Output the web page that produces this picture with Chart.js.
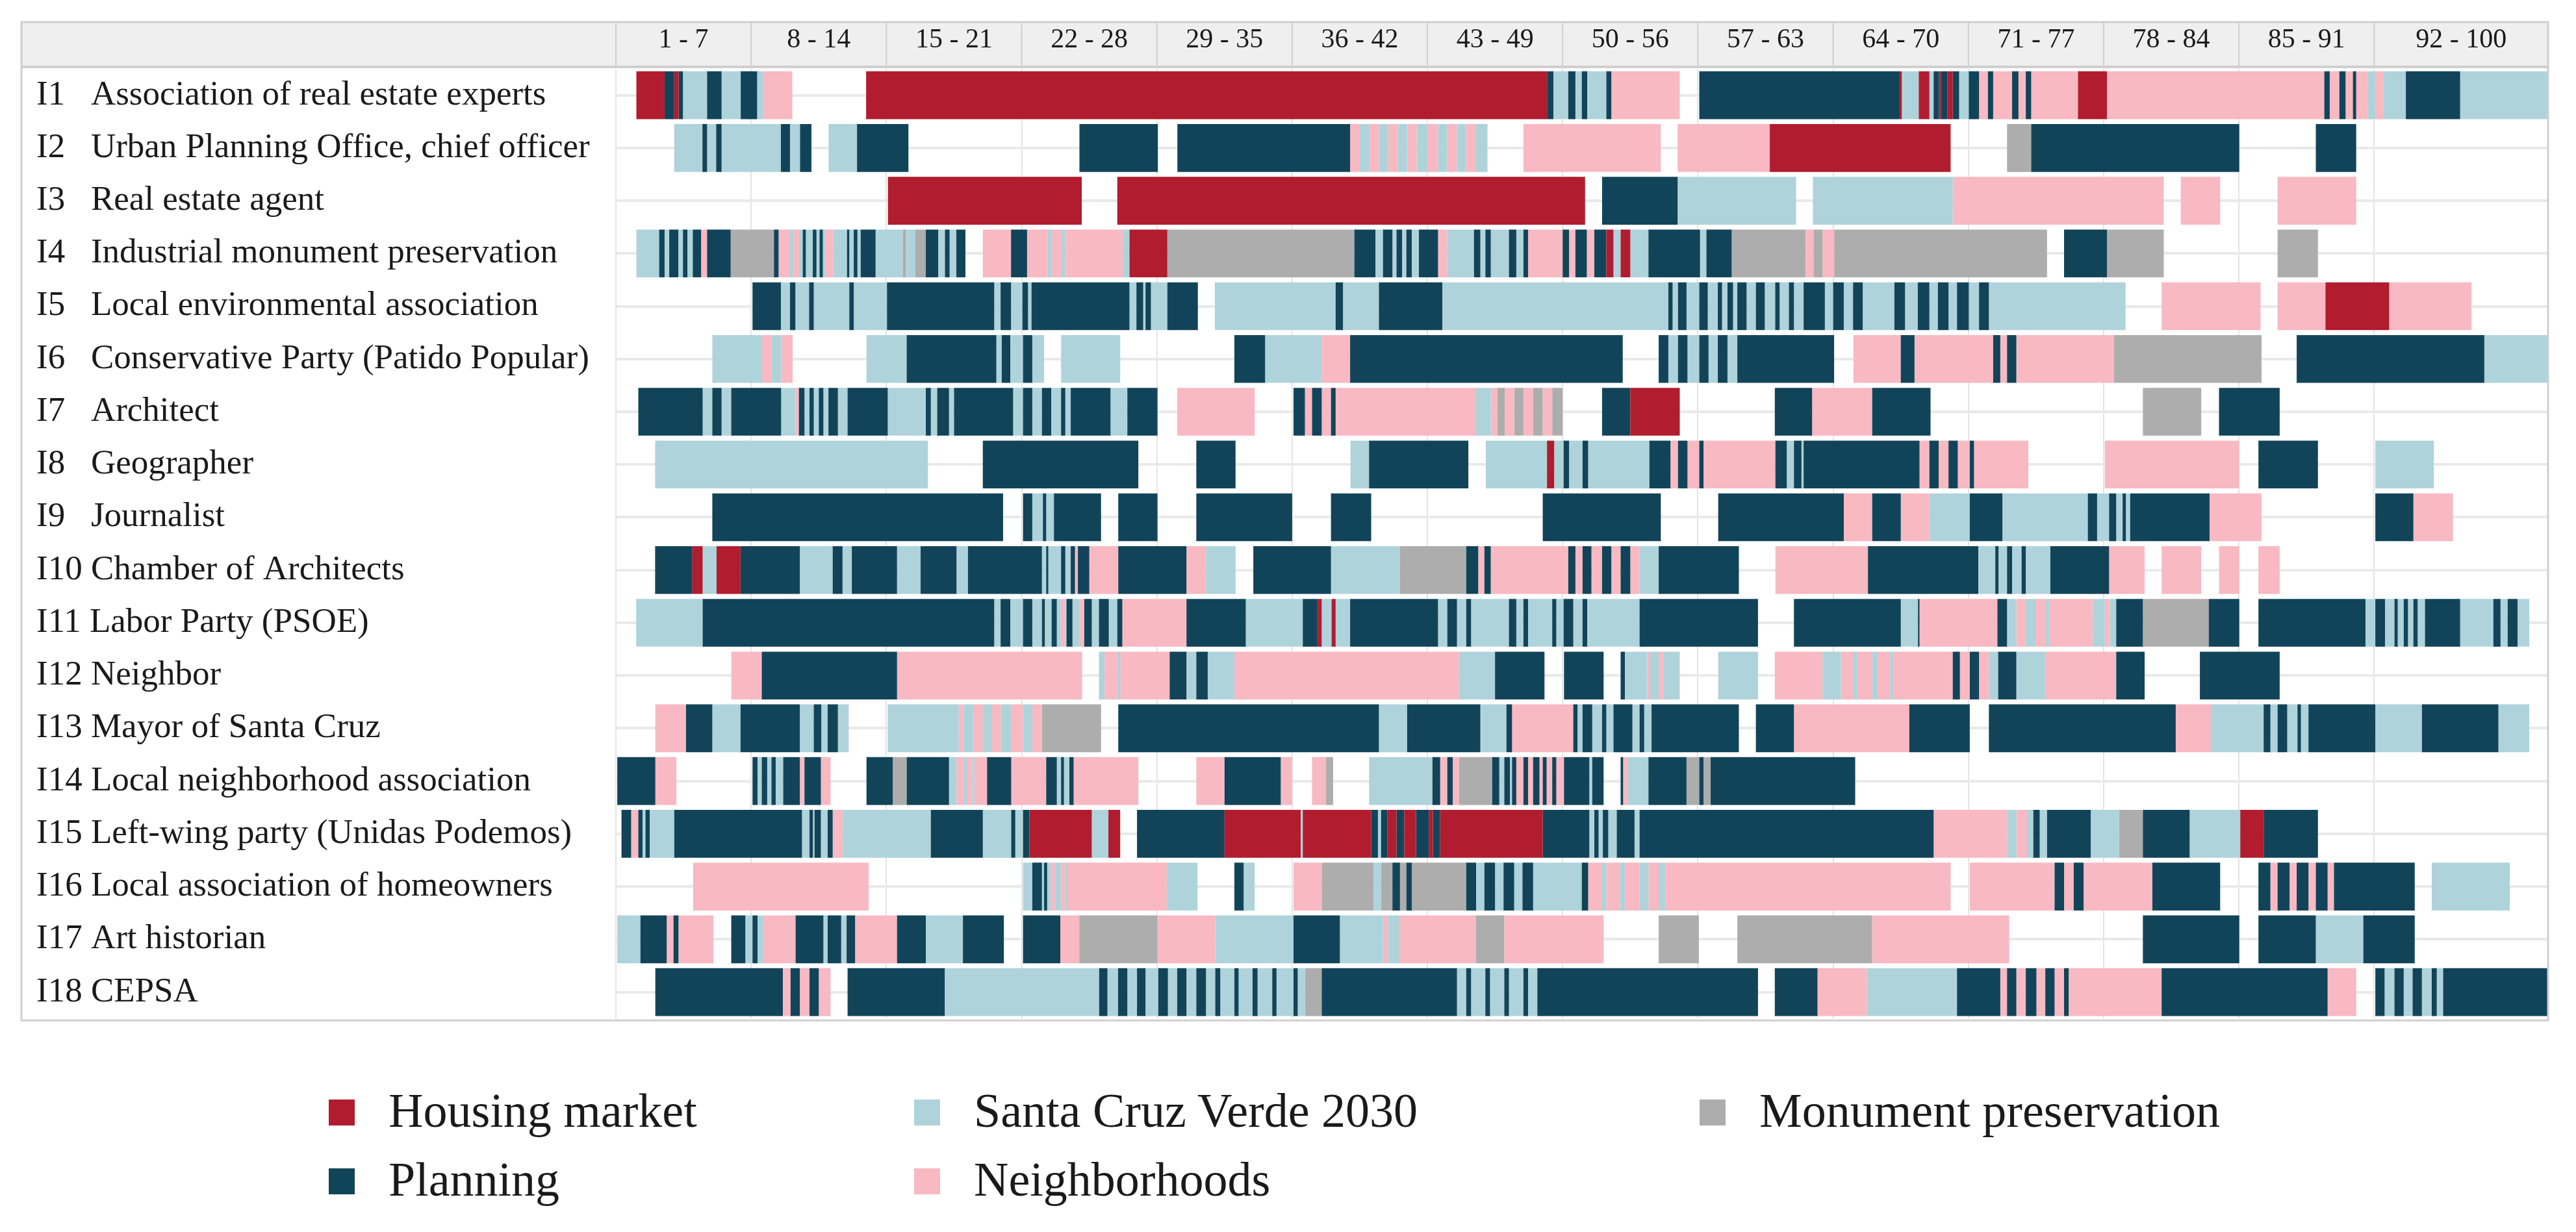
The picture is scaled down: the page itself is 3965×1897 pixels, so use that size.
<!DOCTYPE html>
<html>
<head>
<meta charset="utf-8">
<script src="https://cdn.jsdelivr.net/npm/chart.js@4.4.1/dist/chart.umd.min.js"></script>
<style>
  html, body { margin: 0; padding: 0; background: #fff; }
  #wrap { position: relative; width: 3965px; height: 1897px; }
  #chart { position: absolute; left: 0; top: 0; }
  .lg-item { position: absolute; font-family: "Liberation Serif", serif; font-size: 74px; color: #1a1a1a; white-space: nowrap; line-height: 1; }
  .lg-box { position: absolute; width: 40px; height: 40px; }
</style>
</head>
<body>
<div id="wrap">
  <canvas id="chart" width="3965" height="1600"></canvas>
  <div id="legend"></div>
</div>
<script>
// rows (interviewees) and column headers
const rowLabels = [
  "I1   Association of real estate experts",
  "I2   Urban Planning Office, chief officer",
  "I3   Real estate agent",
  "I4   Industrial monument preservation",
  "I5   Local environmental association",
  "I6   Conservative Party (Patido Popular)",
  "I7   Architect",
  "I8   Geographer",
  "I9   Journalist",
  "I10 Chamber of Architects",
  "I11 Labor Party (PSOE)",
  "I12 Neighbor",
  "I13 Mayor of Santa Cruz",
  "I14 Local neighborhood association",
  "I15 Left-wing party (Unidas Podemos)",
  "I16 Local association of homeowners",
  "I17 Art historian",
  "I18 CEPSA"
];
const colLabels = ["1 - 7", "8 - 14", "15 - 21", "22 - 28", "29 - 35", "36 - 42", "43 - 49",
  "50 - 56", "57 - 63", "64 - 70", "71 - 77", "78 - 84", "85 - 91", "92 - 100"];
const colEdges = [0, 7, 14, 21, 28, 35, 42, 49, 56, 63, 70, 77, 84, 91, 100];

// topics: R housing, P planning, S Santa Cruz Verde, N neighborhoods, M monuments
const seriesCodes = ["R", "P", "S", "N", "M"];
const seriesNames = ["Housing market", "Planning", "Santa Cruz Verde 2030", "Neighborhoods", "Monument preservation"];
const seriesColors = ["#b11c2f", "#124459", "#afd3db", "#f8b9c2", "#adadad"];

// coded passages per row: [from, to, topic]
const I1 = [[1.06,2.52,'R'],[2.52,3.02,'P'],[3.02,3.25,'R'],[3.25,3.47,'P'],[3.47,4.72,'S'],[4.72,5.47,'P'],[5.47,6.46,'S'],[6.46,7.31,'P'],[7.31,7.66,'S'],[7.66,9.13,'N'],
  [12.95,48.19,'R'],[48.19,48.52,'P'],[48.52,49.29,'S'],[49.29,49.66,'P'],[49.66,49.99,'S'],[49.99,50.27,'P'],[50.27,51.26,'S'],[51.26,51.52,'P'],[51.52,55.06,'N'],
  [56.07,66.44,'P'],[66.44,66.55,'R'],[66.55,67.43,'S'],[67.43,67.98,'R'],[67.98,68.2,'S'],[68.2,68.48,'P'],[68.48,68.57,'R'],[68.57,68.92,'P'],[68.92,69.19,'R'],[69.19,69.52,'P'],[69.52,70.02,'S'],[70.02,70.55,'P'],[70.55,71.01,'N'],[71.01,71.28,'P'],[71.28,72.26,'N'],[72.26,72.59,'P'],[72.59,72.97,'N'],[72.97,73.25,'P'],[73.25,75.67,'N'],[75.67,77.17,'R'],[77.17,88.42,'N'],[88.42,88.7,'P'],[88.7,89.2,'N'],[89.2,89.52,'P'],[89.52,89.9,'N'],[89.9,90.07,'P'],[90.07,90.68,'N'],[90.68,91.06,'S'],[91.06,91.5,'N'],[91.5,92.64,'S'],[92.64,95.45,'P'],[95.45,100,'S']];
const I2 = [[3.02,4.48,'S'],[4.48,4.72,'P'],[4.72,5.19,'S'],[5.19,5.47,'P'],[5.47,8.54,'S'],[8.54,9.01,'P'],[9.01,9.53,'S'],[9.53,10.12,'P'],
  [11.01,12.48,'S'],[12.48,15.14,'P'],[23.99,28.05,'P'],
  [29.06,38.0,'P'],[38.0,38.5,'N'],[38.5,39.0,'S'],[39.0,39.49,'N'],[39.49,39.97,'S'],[39.97,40.47,'N'],[40.47,40.97,'S'],[40.97,41.45,'N'],[41.45,42.0,'S'],[42.0,42.55,'N'],[42.55,43.03,'S'],[43.03,43.53,'N'],[43.53,44.0,'S'],[44.0,44.52,'N'],[44.52,45.11,'S'],
  [46.97,54.08,'N'],[54.95,59.72,'N'],[59.72,69.08,'R'],[72.0,73.25,'M'],[73.25,84.02,'P'],[87.98,90.07,'P']];
const I3 = [[14.08,24.11,'R'],[25.95,50.16,'R'],[51.04,54.95,'P'],[54.95,61.08,'S'],[61.95,69.19,'S'],[69.19,80.11,'N'],[80.99,83.03,'N'],[86.0,90.07,'N']];
const I4 = [[1.06,2.24,'S'],[2.24,2.52,'P'],[2.52,2.76,'S'],[2.76,3.23,'P'],[3.23,3.47,'S'],[3.47,3.7,'P'],[3.7,3.98,'S'],[3.98,4.41,'P'],[4.41,4.72,'N'],[4.72,5.94,'P'],[5.94,8.18,'M'],[8.18,8.42,'P'],[8.42,9.01,'N'],[9.01,9.2,'S'],[9.2,9.48,'N'],[9.48,9.67,'S'],[9.67,9.83,'P'],[9.83,10.19,'S'],[10.19,10.38,'P'],[10.38,10.54,'S'],[10.54,10.71,'P'],[10.71,10.85,'S'],[10.85,11.25,'N'],[11.25,11.96,'S'],[11.96,12.08,'P'],[12.08,12.31,'S'],[12.31,12.5,'P'],[12.5,12.67,'S'],[12.67,13.44,'P'],[13.44,14.84,'S'],[14.84,15.02,'M'],[15.02,15.5,'S'],[15.5,16.04,'M'],[16.04,16.68,'P'],[16.68,17.03,'S'],[17.03,17.27,'P'],[17.27,17.62,'S'],[17.62,18.09,'P'],
  [18.99,20.45,'N'],[20.45,21.28,'P'],[21.28,22.34,'N'],[22.34,22.57,'S'],[22.57,23.04,'N'],[23.04,23.28,'S'],[23.28,26.23,'N'],[26.23,26.58,'S'],[26.58,28.54,'R'],[28.54,38.22,'M'],[38.22,39.31,'P'],[39.31,39.7,'S'],[39.7,40.19,'P'],[40.19,40.4,'S'],[40.4,40.69,'P'],[40.69,40.91,'S'],[40.91,41.19,'P'],[41.19,41.56,'S'],[41.56,42.55,'P'],[42.55,43.03,'N'],[43.03,44.41,'S'],[44.41,44.74,'P'],[44.74,45.0,'S'],[45.0,45.28,'P'],[45.28,46.22,'S'],[46.22,46.6,'P'],[46.6,46.97,'S'],[46.97,47.21,'P'],[47.21,49.0,'N'],[49.0,49.33,'P'],[49.33,49.66,'N'],[49.66,50.25,'P'],[50.25,50.64,'N'],[50.64,51.26,'P'],[51.26,51.63,'R'],[51.63,52.0,'S'],[52.0,52.5,'R'],[52.5,53.44,'S'],[53.44,56.11,'P'],[56.11,56.44,'S'],[56.44,57.75,'P'],[57.75,61.58,'M'],[61.58,61.98,'N'],[61.98,62.46,'M'],[62.46,63.05,'N'],[63.05,74.07,'M'],
  [74.95,77.17,'P'],[77.17,80.11,'M'],[86.0,88.09,'M']];
const I5 = [[7.07,8.54,'P'],[8.54,9.01,'S'],[9.01,9.29,'P'],[9.29,10.0,'S'],[10.0,10.24,'P'],[10.24,12.08,'S'],[12.08,12.31,'P'],[12.31,14.03,'S'],[14.03,19.58,'P'],[19.58,19.91,'S'],[19.91,20.45,'P'],[20.45,21.04,'S'],[21.04,21.33,'P'],[21.33,21.51,'S'],[21.51,26.58,'P'],[26.58,26.94,'S'],[26.94,27.29,'P'],[27.29,27.41,'S'],[27.41,27.69,'P'],[27.69,28.54,'S'],[28.54,30.12,'P'],
  [31.0,37.25,'S'],[37.25,37.63,'P'],[37.63,39.49,'S'],[39.49,42.77,'P'],[42.77,54.47,'S'],[54.47,54.69,'P'],[54.69,54.97,'S'],[54.97,55.41,'P'],[55.41,56.07,'S'],[56.07,56.51,'P'],[56.51,57.03,'S'],[57.03,57.25,'P'],[57.25,57.53,'S'],[57.53,57.82,'P'],[57.82,58.04,'S'],[58.04,58.52,'P'],[58.52,59.0,'S'],[59.0,59.46,'P'],[59.46,60.0,'S'],[60.0,60.23,'P'],[60.23,60.71,'S'],[60.71,60.97,'P'],[60.97,61.47,'S'],[61.47,62.57,'P'],[62.57,63.0,'S'],[63.0,63.55,'P'],[63.55,64.03,'S'],[64.03,64.53,'P'],[64.53,66.17,'S'],[66.17,66.72,'P'],[66.72,67.38,'S'],[67.38,67.98,'P'],[67.98,68.42,'S'],[68.42,68.97,'P'],[68.97,69.41,'S'],[69.41,70.02,'P'],[70.02,70.55,'S'],[70.55,71.06,'P'],[71.06,78.13,'S'],
  [80.0,85.12,'N'],[86.0,88.48,'N'],[88.48,91.78,'R'],[91.78,96.04,'N']];
const I6 = [[4.99,7.57,'S'],[7.57,8.05,'N'],[8.05,8.55,'S'],[8.55,9.15,'N'],
  [12.97,15.05,'S'],[15.05,19.69,'P'],[19.69,19.97,'S'],[19.97,20.41,'P'],[20.41,21.07,'S'],[21.07,21.55,'P'],[21.55,22.16,'S'],[23.04,26.1,'S'],
  [32.01,33.6,'P'],[33.6,36.53,'S'],[36.53,38.0,'N'],[38.0,52.11,'P'],
  [53.97,54.47,'P'],[54.47,54.97,'S'],[54.97,55.46,'P'],[55.46,56.07,'S'],[56.07,56.55,'P'],[56.55,57.03,'S'],[57.03,57.53,'P'],[57.53,58.04,'S'],[58.04,63.05,'P'],
  [64.05,66.5,'N'],[66.5,67.21,'P'],[67.21,71.28,'N'],[71.28,71.65,'P'],[71.65,72.0,'N'],[72.0,72.48,'P'],[72.48,77.54,'N'],[77.54,85.17,'M'],[86.99,96.7,'P'],[96.7,100,'S']];
const I7 = [[1.16,4.49,'P'],[4.49,4.99,'S'],[4.99,5.47,'P'],[5.47,5.97,'S'],[5.97,8.55,'P'],[8.55,9.3,'S'],[9.3,9.47,'N'],[9.47,9.76,'P'],[9.76,10.02,'S'],[10.02,10.24,'P'],[10.24,10.5,'S'],[10.5,10.74,'P'],[10.74,11.0,'S'],[11.0,11.49,'P'],[11.49,11.99,'S'],[11.99,14.07,'P'],[14.07,16.04,'S'],[16.04,16.3,'P'],[16.3,16.63,'S'],[16.63,17.24,'P'],[17.24,17.5,'S'],[17.5,20.56,'P'],[20.56,21.07,'S'],[21.07,21.55,'P'],[21.55,22.05,'S'],[22.05,22.53,'P'],[22.53,23.04,'S'],[23.04,23.26,'P'],[23.26,23.54,'S'],[23.54,25.6,'P'],[25.6,26.47,'S'],[26.47,28.03,'P'],
  [29.05,33.06,'N'],
  [35.07,35.66,'P'],[35.66,36.03,'N'],[36.03,36.53,'P'],[36.53,37.01,'N'],[37.01,37.25,'P'],[37.25,44.52,'N'],[44.52,45.28,'S'],[45.28,45.61,'N'],[45.61,46.0,'M'],[46.0,46.49,'N'],[46.49,46.97,'M'],[46.97,47.47,'N'],[47.47,47.97,'M'],[47.97,48.46,'N'],[48.46,49.0,'M'],
  [51.04,52.5,'P'],[52.5,55.06,'R'],[59.98,61.91,'P'],[61.91,65.02,'N'],[65.02,68.04,'P'],[79.03,82.05,'M'],[82.97,86.11,'P']];
const I8 = [[2.03,16.15,'S'],[18.99,27.04,'P'],[30.04,32.07,'P'],[38.02,38.98,'S'],[38.98,44.12,'P'],
  [45.02,48.19,'S'],[48.19,48.56,'R'],[48.56,49.05,'S'],[49.05,49.33,'P'],[49.33,50.03,'S'],[50.03,50.32,'P'],[50.32,53.49,'S'],[53.49,54.58,'P'],[54.58,54.97,'N'],[54.97,55.46,'P'],[55.46,56.07,'N'],[56.07,56.29,'P'],[56.29,60.01,'N'],[60.01,60.6,'P'],[60.6,60.97,'S'],[60.97,61.36,'P'],[61.36,61.47,'S'],[61.47,67.47,'P'],[67.47,67.98,'N'],[67.98,68.46,'P'],[68.46,68.97,'N'],[68.97,69.45,'P'],[69.45,70.07,'N'],[70.07,70.29,'P'],[70.29,73.1,'N'],
  [77.06,84.02,'N'],[85.01,88.09,'P'],[91.06,94.09,'S']];
const I9 = [[4.99,20.04,'P'],[21.07,21.55,'P'],[21.55,22.1,'S'],[22.1,22.27,'P'],[22.27,22.67,'S'],[22.67,25.11,'P'],[26.0,28.03,'P'],[30.04,35.0,'P'],[37.01,39.09,'P'],[47.97,54.08,'P'],
  [57.05,63.55,'P'],[63.55,65.02,'N'],[65.02,66.5,'P'],[66.5,67.98,'N'],[67.98,70.07,'S'],[70.07,71.76,'P'],[71.76,76.18,'S'],[76.18,76.66,'P'],[76.66,77.28,'S'],[77.28,77.65,'P'],[77.65,77.98,'S'],[77.98,78.15,'P'],[78.15,78.37,'S'],[78.37,82.48,'P'],[82.48,85.17,'N'],
  [91.06,93.03,'P'],[93.03,95.08,'N']];
const I10 = [[2.03,3.96,'P'],[3.96,4.49,'R'],[4.49,5.21,'S'],[5.21,6.45,'R'],[6.45,9.52,'P'],[9.52,11.22,'S'],[11.22,11.73,'P'],[11.73,12.21,'S'],[12.21,14.55,'P'],[14.55,15.77,'S'],[15.77,17.63,'P'],[17.63,18.22,'S'],[18.22,22.05,'P'],[22.05,22.27,'S'],[22.27,22.38,'P'],[22.38,23.04,'S'],[23.04,23.26,'P'],[23.26,23.54,'S'],[23.54,23.76,'P'],[23.76,23.91,'N'],[23.91,24.5,'P'],[24.5,26.0,'N'],[26.0,29.53,'P'],[29.53,30.54,'N'],[30.54,32.07,'S'],
  [32.99,37.01,'P'],[37.01,40.58,'S'],[40.58,44.01,'M'],[44.01,44.63,'P'],[44.63,44.95,'N'],[44.95,45.28,'P'],[45.28,49.29,'N'],[49.29,49.66,'P'],[49.66,50.03,'N'],[50.03,50.49,'P'],[50.49,51.04,'N'],[51.04,51.52,'P'],[51.52,52.0,'N'],[52.0,52.5,'P'],[52.5,52.98,'N'],[52.98,53.97,'S'],[53.97,58.12,'P'],
  [60.01,64.8,'N'],[64.8,70.51,'P'],[70.51,71.39,'S'],[71.39,71.56,'P'],[71.56,72.0,'S'],[72.0,72.26,'P'],[72.26,72.75,'S'],[72.75,72.97,'P'],[72.97,74.24,'S'],[74.24,77.28,'P'],[77.28,79.12,'N'],
  [80.0,82.05,'N'],[82.97,84.02,'N'],[85.01,86.11,'N']];
const I11 = [[1.05,4.49,'S'],[4.49,19.58,'P'],[19.58,19.91,'S'],[19.91,20.41,'P'],[20.41,21.07,'S'],[21.07,21.55,'P'],[21.55,22.05,'S'],[22.05,22.2,'P'],[22.2,22.55,'S'],[22.55,22.82,'P'],[22.82,23.03,'S'],[23.03,23.26,'N'],[23.26,23.32,'S'],[23.32,23.63,'P'],[23.63,24.0,'S'],[24.0,24.24,'N'],[24.24,24.63,'P'],[24.63,25.0,'S'],[25.0,25.51,'P'],[25.51,25.95,'S'],[25.95,26.21,'P'],[26.21,29.53,'N'],[29.53,32.6,'P'],[32.6,35.55,'S'],[35.55,36.31,'P'],[36.31,36.53,'R'],[36.53,37.04,'S'],[37.04,37.25,'R'],[37.25,38.0,'S'],[38.0,42.55,'P'],[42.55,43.03,'S'],[43.03,43.53,'P'],[43.53,44.01,'S'],[44.01,44.26,'P'],[44.26,46.22,'S'],[46.22,46.6,'P'],[46.6,46.97,'S'],[46.97,47.21,'P'],[47.21,48.46,'S'],[48.46,48.67,'P'],[48.67,49.05,'S'],[49.05,49.55,'P'],[49.55,50.03,'S'],[50.03,50.27,'P'],[50.27,52.98,'S'],[52.98,59.11,'P'],
  [60.97,66.5,'P'],[66.5,67.39,'S'],[67.39,67.47,'P'],[67.47,71.5,'N'],[71.5,72.0,'P'],[72.0,72.48,'S'],[72.48,72.97,'N'],[72.97,73.47,'S'],[73.47,73.98,'N'],[73.98,74.2,'S'],[74.2,76.44,'N'],[76.44,77.06,'S'],[77.06,77.32,'N'],[77.32,77.65,'S'],[77.65,79.03,'P'],[79.03,82.44,'M'],[82.44,84.02,'P'],
  [85.01,90.55,'P'],[90.55,91.06,'S'],[91.06,91.56,'P'],[91.56,92.05,'S'],[92.05,92.22,'P'],[92.22,92.53,'S'],[92.53,92.75,'P'],[92.75,93.03,'S'],[93.03,93.25,'P'],[93.25,93.63,'S'],[93.63,95.45,'P'],[95.45,97.17,'S'],[97.17,97.54,'P'],[97.54,97.91,'S'],[97.91,98.42,'P'],[98.42,99.03,'S']];
const I12 = [[5.97,7.55,'N'],[7.55,14.55,'P'],[14.55,24.13,'N'],
  [25.0,25.29,'S'],[25.29,25.95,'N'],[25.95,26.1,'S'],[26.1,28.66,'N'],[28.66,29.53,'P'],[29.53,30.04,'S'],[30.04,30.63,'P'],[30.63,32.01,'S'],[32.01,43.64,'N'],[43.64,45.5,'S'],[45.5,48.06,'P'],
  [49.07,51.12,'P'],[52.0,52.22,'P'],[52.22,53.38,'S'],[53.38,53.53,'N'],[53.53,53.97,'S'],[53.97,54.21,'N'],[54.21,55.06,'S'],[57.05,59.11,'S'],
  [59.98,62.46,'N'],[62.46,63.4,'S'],[63.4,64.03,'N'],[64.03,64.25,'S'],[64.25,65.02,'N'],[65.02,65.3,'S'],[65.3,65.96,'N'],[65.96,66.11,'S'],[66.11,69.19,'N'],[69.19,69.56,'P'],[69.56,70.07,'N'],[70.07,70.55,'P'],[70.55,71.06,'N'],[71.06,71.54,'S'],[71.54,72.48,'P'],[72.48,73.98,'S'],[73.98,77.65,'N'],[77.65,79.12,'P'],
  [81.98,86.11,'P']];
const I13 = [[2.04,3.63,'N'],[3.63,4.99,'P'],[4.99,6.45,'S'],[6.45,9.52,'P'],[9.52,10.24,'S'],[10.24,10.63,'P'],[10.63,10.96,'S'],[10.96,11.49,'P'],[11.49,12.05,'S'],
  [14.07,17.74,'S'],[17.74,18.0,'N'],[18.0,18.49,'S'],[18.49,18.99,'N'],[18.99,19.47,'S'],[19.47,19.93,'N'],[19.93,20.45,'S'],[20.45,21.07,'N'],[21.07,21.55,'S'],[21.55,22.05,'N'],[22.05,25.11,'M'],
  [26.0,39.49,'P'],[39.49,40.95,'S'],[40.95,44.74,'P'],[44.74,46.09,'S'],[46.09,46.38,'P'],[46.38,49.55,'N'],[49.55,49.77,'P'],[49.77,50.03,'S'],[50.03,50.53,'P'],[50.53,51.04,'S'],[51.04,51.26,'P'],[51.26,51.63,'S'],[51.63,52.61,'P'],[52.61,52.98,'S'],[52.98,53.22,'P'],[53.22,53.6,'S'],[53.6,58.12,'P'],
  [59.0,60.97,'P'],[60.97,66.94,'N'],[66.94,70.07,'P'],
  [71.06,80.73,'P'],[80.73,82.55,'N'],[82.55,85.28,'S'],[85.28,85.63,'P'],[85.63,86.0,'S'],[86.0,86.5,'P'],[86.5,87.03,'S'],[87.03,87.21,'P'],[87.21,87.6,'S'],[87.6,91.06,'P'],[91.06,93.47,'S'],[93.47,97.43,'P'],[97.43,99.03,'S']];
const I14 = [[0.07,2.04,'P'],[2.04,3.13,'N'],
  [7.07,7.33,'P'],[7.33,7.55,'S'],[7.55,7.83,'P'],[7.83,8.05,'S'],[8.05,8.27,'P'],[8.27,8.66,'S'],[8.66,9.52,'P'],[9.52,9.76,'N'],[9.76,10.61,'P'],[10.61,11.11,'N'],
  [12.97,14.33,'P'],[14.33,15.05,'M'],[15.05,17.24,'P'],[17.24,17.63,'S'],[17.63,18.0,'N'],[18.0,18.16,'S'],[18.16,18.44,'N'],[18.44,18.55,'S'],[18.55,19.21,'N'],[19.21,20.46,'P'],[20.46,22.27,'N'],[22.27,22.82,'P'],[22.82,23.04,'S'],[23.04,23.19,'P'],[23.19,23.47,'S'],[23.47,23.69,'P'],[23.69,27.04,'N'],
  [30.04,31.5,'N'],[31.5,34.41,'P'],[34.41,35.0,'N'],[36.03,36.75,'N'],[36.75,37.12,'M'],
  [38.98,42.26,'S'],[42.26,42.66,'P'],[42.66,43.03,'N'],[43.03,43.31,'P'],[43.31,43.64,'N'],[43.64,45.35,'M'],[45.35,45.72,'P'],[45.72,45.98,'S'],[45.98,46.27,'P'],[46.27,46.38,'S'],[46.38,46.6,'P'],[46.6,46.97,'N'],[46.97,47.21,'P'],[47.21,47.47,'N'],[47.47,47.8,'P'],[47.8,47.97,'N'],[47.97,48.17,'P'],[48.17,48.46,'N'],[48.46,48.67,'P'],[48.67,49.07,'N'],[49.07,50.38,'P'],[50.38,50.53,'S'],[50.53,51.12,'P'],
  [52.0,52.13,'P'],[52.13,52.39,'N'],[52.39,53.44,'S'],[53.44,55.41,'P'],[55.41,56.07,'M'],[56.07,56.29,'P'],[56.29,56.66,'M'],[56.66,64.14,'P']];
const I15 = [[0.29,0.79,'P'],[0.79,1.16,'N'],[1.16,1.38,'P'],[1.38,1.53,'S'],[1.53,1.75,'P'],[1.75,3.02,'S'],[3.02,9.63,'P'],[9.63,10.02,'S'],[10.02,10.2,'P'],[10.2,10.28,'S'],[10.28,10.61,'P'],[10.61,10.96,'S'],[10.96,11.22,'P'],[11.22,11.73,'N'],[11.73,16.3,'S'],[16.3,18.99,'P'],[18.99,20.46,'S'],[20.46,20.67,'P'],[20.67,21.07,'S'],[21.07,21.4,'P'],[21.4,24.63,'R'],[24.63,25.49,'S'],[25.49,26.1,'R'],
  [26.97,31.5,'P'],[31.5,35.44,'R'],[35.44,35.55,'S'],[35.55,39.09,'R'],[39.09,39.44,'P'],[39.44,39.6,'S'],[39.6,39.92,'P'],[39.92,40.4,'R'],[40.4,40.8,'P'],[40.8,41.41,'R'],[41.41,42.07,'P'],[42.07,42.29,'R'],[42.29,42.66,'P'],[42.66,47.97,'R'],[47.97,50.38,'P'],[50.38,50.64,'S'],[50.64,50.86,'P'],[50.86,51.08,'S'],[51.08,51.36,'P'],[51.36,51.8,'S'],[51.8,52.72,'P'],[52.72,52.98,'S'],[52.98,68.2,'P'],[68.2,72.0,'N'],[72.0,72.48,'S'],[72.48,73.03,'N'],[73.03,73.36,'S'],[73.36,73.69,'P'],[73.69,74.07,'S'],[74.07,76.33,'P'],[76.33,77.8,'S'],[77.8,79.03,'M'],[79.03,81.45,'P'],[81.45,84.07,'S'],[84.07,85.28,'R'],[85.28,88.09,'P']];
const I16 = [[4.0,13.08,'N'],
  [21.07,21.55,'S'],[21.55,22.05,'P'],[22.05,22.16,'S'],[22.16,22.32,'P'],[22.32,22.5,'S'],[22.5,22.72,'N'],[22.72,23.04,'S'],[23.04,23.26,'N'],[23.26,23.37,'S'],[23.37,28.51,'N'],[28.51,30.1,'S'],
  [32.01,32.49,'P'],[32.49,33.06,'S'],
  [35.07,36.53,'N'],[36.53,39.22,'M'],[39.22,39.6,'S'],[39.6,40.19,'M'],[40.19,40.58,'P'],[40.58,40.91,'M'],[40.91,41.19,'P'],[41.19,44.01,'M'],[44.01,44.52,'P'],[44.52,44.95,'S'],[44.95,45.5,'P'],[45.5,45.94,'S'],[45.94,46.49,'P'],[46.49,46.92,'S'],[46.92,47.47,'P'],[47.47,49.99,'S'],[49.99,50.32,'P'],[50.32,51.04,'N'],[51.04,51.26,'S'],[51.26,51.96,'N'],[51.96,52.22,'S'],[52.22,52.98,'N'],[52.98,53.44,'S'],[53.44,53.97,'N'],[53.97,54.32,'S'],[54.32,69.08,'N'],
  [70.07,74.46,'N'],[74.46,74.95,'P'],[74.95,75.45,'N'],[75.45,75.96,'P'],[75.96,79.52,'N'],[79.52,83.03,'P'],
  [85.01,85.63,'P'],[85.63,86.0,'N'],[86.0,86.62,'P'],[86.62,86.99,'N'],[86.99,87.6,'P'],[87.6,87.98,'N'],[87.98,88.59,'P'],[88.59,88.92,'N'],[88.92,93.1,'P'],[93.98,98.02,'S']];
const I17 = [[0.07,1.27,'S'],[1.27,2.63,'P'],[2.63,2.98,'N'],[2.98,3.24,'P'],[3.24,5.05,'N'],
  [5.97,6.7,'P'],[6.7,7.07,'S'],[7.07,7.33,'P'],[7.33,7.66,'S'],[7.66,9.3,'N'],[9.3,10.74,'P'],[10.74,10.96,'S'],[10.96,11.66,'P'],[11.66,11.94,'S'],[11.94,12.38,'P'],[12.38,14.55,'N'],[14.55,16.04,'P'],[16.04,17.96,'S'],[17.96,20.08,'P'],
  [21.07,23.0,'P'],[23.0,23.98,'N'],[23.98,28.03,'M'],[28.03,31.02,'N'],[31.02,35.07,'S'],[35.07,37.47,'P'],[37.47,39.7,'S'],[39.7,39.97,'N'],[39.97,40.58,'S'],[40.58,44.52,'N'],[44.52,45.98,'M'],[45.98,51.12,'N'],
  [53.97,56.05,'M'],[58.04,65.02,'M'],[65.02,72.11,'N'],[79.03,84.02,'P'],[85.01,87.98,'P'],[87.98,90.44,'S'],[90.44,93.1,'P']];
const I18 = [[2.04,8.64,'P'],[8.64,9.04,'N'],[9.04,9.52,'P'],[9.52,10.02,'N'],[10.02,10.5,'P'],[10.5,11.11,'N'],
  [11.99,17.02,'P'],[17.02,25.01,'S'],[25.01,25.44,'P'],[25.44,25.99,'S'],[25.99,26.47,'P'],[26.47,26.97,'S'],[26.97,27.41,'P'],[27.41,28.07,'S'],[28.07,28.57,'P'],[28.57,29.05,'S'],[29.05,29.53,'P'],[29.53,30.04,'S'],[30.04,30.54,'P'],[30.54,31.02,'S'],[31.02,31.28,'P'],[31.28,32.01,'S'],[32.01,32.23,'P'],[32.23,32.95,'S'],[32.95,33.21,'P'],[33.21,33.97,'S'],[33.97,34.19,'P'],[34.19,35.07,'S'],[35.07,35.29,'P'],[35.29,35.66,'S'],[35.66,36.53,'M'],[36.53,43.53,'P'],[43.53,44.01,'S'],[44.01,44.26,'P'],[44.26,45.0,'S'],[45.0,45.24,'P'],[45.24,45.98,'S'],[45.98,46.22,'P'],[46.22,46.97,'S'],[46.97,47.21,'P'],[47.21,47.69,'S'],[47.69,59.11,'P'],
  [59.98,62.19,'P'],[62.19,64.75,'N'],[64.75,69.41,'S'],[69.41,71.65,'P'],[71.65,72.0,'N'],[72.0,72.48,'P'],[72.48,72.97,'N'],[72.97,73.52,'P'],[73.52,73.98,'N'],[73.98,74.46,'P'],[74.46,74.95,'N'],[74.95,75.19,'P'],[75.19,80.0,'N'],[80.0,88.59,'P'],[88.59,90.07,'N'],
  [91.06,91.54,'P'],[91.54,92.05,'S'],[92.05,92.53,'P'],[92.53,92.99,'S'],[92.99,93.47,'P'],[93.47,93.98,'S'],[93.98,94.24,'P'],[94.24,94.57,'S'],[94.57,100,'P']];

const rows = [I1, I2, I3, I4, I5, I6, I7, I8, I9, I10, I11, I12, I13, I14, I15, I16, I17, I18];

const FONT = "'Liberation Serif', 'Times New Roman', serif";
const LEFT = 33, TOP = 34, HEAD_BOTTOM = 103;

// header band, cell lines and outer frame
const framePlugin = {
  id: "frame",
  beforeDraw(chart) {
    const ctx = chart.ctx, area = chart.chartArea, xs = chart.scales.x2;
    ctx.save();
    ctx.fillStyle = "#efefef";
    ctx.fillRect(LEFT, TOP, area.right - LEFT, HEAD_BOTTOM - TOP);
    ctx.strokeStyle = "#cfcfcf";
    ctx.lineWidth = 2;
    colEdges.forEach(function (v) {
      const px = xs.getPixelForValue(v);
      ctx.beginPath(); ctx.moveTo(px, TOP); ctx.lineTo(px, HEAD_BOTTOM); ctx.stroke();
    });
    ctx.lineWidth = 4;
    ctx.beginPath(); ctx.moveTo(LEFT, HEAD_BOTTOM); ctx.lineTo(area.right, HEAD_BOTTOM); ctx.stroke();
    ctx.restore();
  },
  afterDraw(chart) {
    const ctx = chart.ctx, area = chart.chartArea;
    ctx.save();
    ctx.strokeStyle = "#cfcfcf";
    ctx.lineWidth = 3;
    ctx.strokeRect(LEFT, TOP, area.right - LEFT, area.bottom + 3 - TOP);
    ctx.restore();
  }
};

const datasets = seriesCodes.map(function (code, k) {
  const data = [];
  rows.forEach(function (runs, r) {
    runs.forEach(function (s) {
      if (s[2] === code) data.push({ x: [s[0], s[1]], y: rowLabels[r] });
    });
  });
  return {
    label: seriesNames[k],
    data: data,
    backgroundColor: seriesColors[k],
    borderWidth: 0,
    xAxisID: "x",
    yAxisID: "y"
  };
});

new Chart(document.getElementById("chart"), {
  type: "bar",
  data: { labels: rowLabels, datasets: datasets },
  options: {
    indexAxis: "y",
    responsive: false,
    animation: false,
    events: [],
    layout: { padding: { left: 56, top: TOP, right: 43, bottom: 25 } },
    datasets: { bar: { grouped: false, barPercentage: 0.906, categoryPercentage: 1 } },
    plugins: { legend: { display: false }, tooltip: { enabled: false } },
    scales: {
      x: {
        type: "linear", position: "top", min: 0, max: 100,
        grid: { display: false }, border: { display: false },
        afterBuildTicks: function (ax) {
          ax.ticks = colLabels.map(function (l, i) { return { value: (colEdges[i] + colEdges[i + 1]) / 2 }; });
        },
        ticks: {
          autoSkip: false, maxRotation: 0, padding: 11, color: "#1a1a1a",
          font: { family: FONT, size: 42 },
          callback: function (v, i) { return colLabels[i]; }
        },
        afterFit: function (ax) { ax.height = 72; }
      },
      x2: {
        type: "linear", position: "top", min: 0, max: 100, z: 1,
        afterBuildTicks: function (ax) { ax.ticks = colEdges.map(function (v) { return { value: v }; }); },
        ticks: { display: false },
        grid: { color: "rgba(205,205,205,0.55)", lineWidth: 2, drawTicks: false },
        border: { display: false },
        afterFit: function (ax) { ax.height = 0; }
      },
      y: {
        type: "category", offset: true,
        grid: { offset: false, color: "#e9e9e9", lineWidth: 4, drawTicks: false },
        border: { display: false },
        ticks: { crossAlign: "far", autoSkip: false, padding: 0, color: "#1a1a1a", font: { family: FONT, size: 53 } },
        afterFit: function (ax) { ax.width = 948 - 56; }
      }
    }
  },
  plugins: [framePlugin]
});

// legend: two rows, filled column by column
const legendCols = [506, 1407, 2616];
const legendRows = [1713, 1819];
const legend = document.getElementById("legend");
seriesNames.forEach(function (name, i) {
  const col = Math.floor(i / 2), row = i % 2;
  const box = document.createElement("div");
  box.className = "lg-box";
  box.style.left = legendCols[col] + "px";
  box.style.top = (legendRows[row] - 20) + "px";
  box.style.background = seriesColors[i];
  const txt = document.createElement("div");
  txt.className = "lg-item";
  txt.style.left = (legendCols[col] + 92) + "px";
  txt.style.top = (legendRows[row] - 40) + "px";
  txt.textContent = name;
  legend.appendChild(box);
  legend.appendChild(txt);
});
</script>
</body>
</html>
